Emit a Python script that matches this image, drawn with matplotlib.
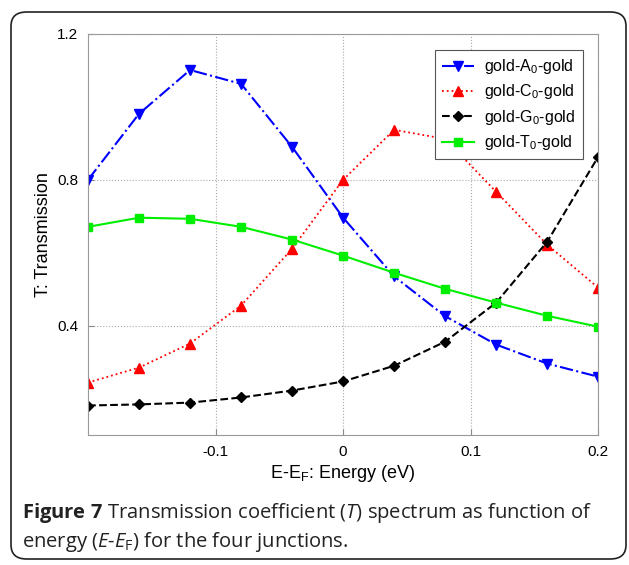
import matplotlib
matplotlib.use('Agg')
import matplotlib.pyplot as plt
from matplotlib.patches import FancyBboxPatch

# Energy grid (eV) and transmission
energy = [-0.20, -0.16, -0.12, -0.08, -0.04, 0.00, 0.04, 0.08, 0.12, 0.16, 0.20]
t_A = [0.800, 0.981, 1.101, 1.063, 0.890, 0.696, 0.535, 0.426, 0.348, 0.296, 0.260]
t_C = [0.244, 0.285, 0.351, 0.455, 0.611, 0.800, 0.937, 0.912, 0.767, 0.622, 0.504]
t_G = [0.181, 0.184, 0.189, 0.203, 0.222, 0.247, 0.290, 0.356, 0.463, 0.630, 0.863]
t_T = [0.671, 0.696, 0.693, 0.671, 0.636, 0.592, 0.545, 0.501, 0.463, 0.427, 0.397]

labels = [r'gold-A$_\mathregular{0}$-gold', r'gold-C$_\mathregular{0}$-gold',
          r'gold-G$_\mathregular{0}$-gold', r'gold-T$_\mathregular{0}$-gold']
xticks = [-0.1, 0, 0.1, 0.2]
xticklabels = ['-0.1', '0', '0.1', '0.2']
yticks = [0.4, 0.8, 1.2]
yticklabels = ['0.4', '0.8', '1.2']

plt.rcParams['font.family'] = ['Liberation Sans', 'DejaVu Sans']
plt.rcParams['mathtext.fontset'] = 'custom'
plt.rcParams['mathtext.rm'] = 'Open Sans'
plt.rcParams['mathtext.it'] = 'Open Sans:italic'
plt.rcParams['mathtext.bf'] = 'Open Sans:bold'

fig = plt.figure(figsize=(6.29, 5.65), dpi=100)
ax = fig.add_axes([0.140, 0.230, 0.811, 0.710])

ax.plot(energy, t_A, color='#0000ff', ls='-.', lw=1.5, marker='v', ms=7, label=labels[0])
ax.plot(energy, t_C, color='#ff0000', ls=':', lw=1.3, marker='^', ms=7, label=labels[1])
ax.plot(energy, t_G, color='black', ls='--', lw=1.5, marker='D', ms=5, label=labels[2])
ax.plot(energy, t_T, color='#00ee00', ls='-', lw=1.5, marker='s', ms=5.5, label=labels[3])

ax.set_xlim(-0.2, 0.2)
ax.set_ylim(0.1, 1.2)
ax.set_xticks(xticks)
ax.set_xticklabels(xticklabels)
ax.set_yticks(yticks)
ax.set_yticklabels(yticklabels)
ax.tick_params(direction='in', length=4, labelsize=11, color='#888888', pad=7)
ax.grid(True, ls=':', color='#aaaaaa', lw=0.8)
for s in ax.spines.values():
    s.set_color('#999999')

ax.set_xlabel(r'E-E$_\mathregular{F}$: Energy (eV)', fontsize=13, labelpad=3)
ax.set_ylabel('T: Transmission', fontsize=13, labelpad=4)

leg = ax.legend(loc='upper right', bbox_to_anchor=(0.985, 0.98), fontsize=11.5,
                fancybox=False, edgecolor='#555555', framealpha=1,
                handlelength=2.0, handletextpad=0.6, borderpad=0.45, labelspacing=0.4)
leg.get_frame().set_linewidth(0.8)

fig.text(0.035, 0.084,
         r'$\mathbf{Figure\ 7}$ Transmission coefficient ($\mathit{T}$) spectrum as function of',
         fontsize=14.5, family='Open Sans', color='#222222')
fig.text(0.035, 0.032,
         r'energy ($\mathit{E}$-$\mathit{E}_\mathrm{F}$) for the four junctions.',
         fontsize=14.5, family='Open Sans', color='#222222')

frame = FancyBboxPatch((11 / 629, 6 / 565), 615 / 629, 547 / 565,
                       boxstyle='round,pad=0,rounding_size=0.025',
                       transform=fig.transFigure, fill=False,
                       edgecolor='#222222', lw=1.2)
fig.patches.append(frame)

plt.savefig('out.png', dpi=100)
